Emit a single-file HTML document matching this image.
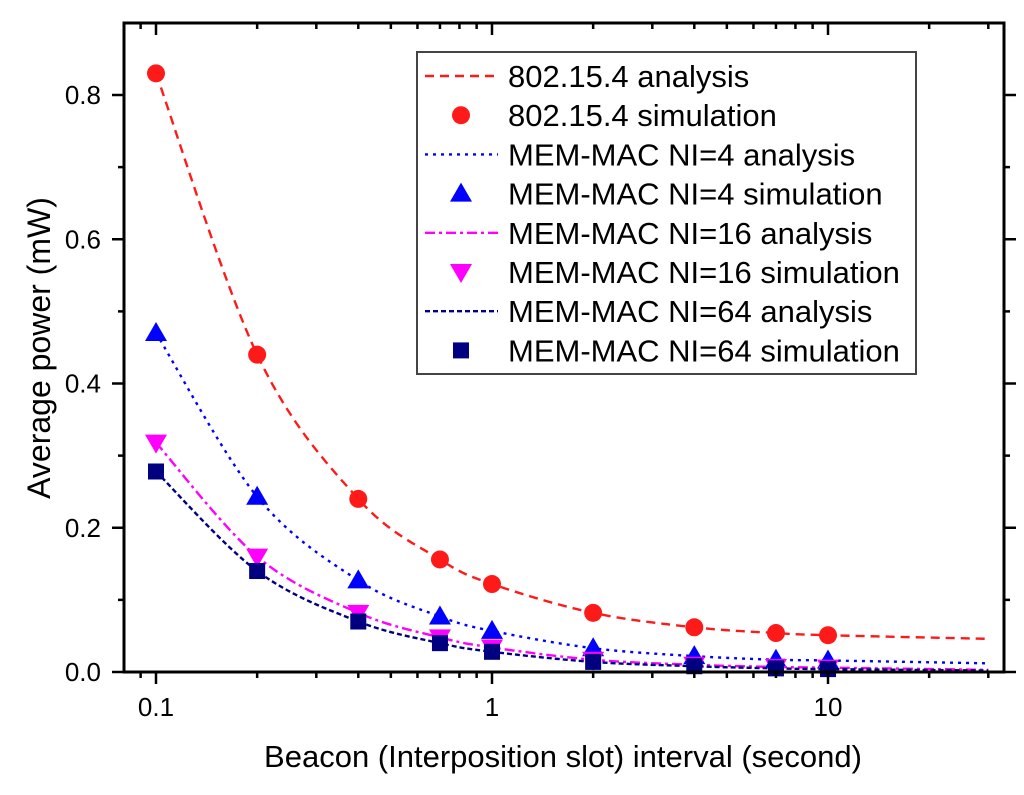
<!DOCTYPE html>
<html><head><meta charset="utf-8"><style>
body{margin:0;background:#fff;}
svg{display:block;font-family:"Liberation Sans",Arial,sans-serif;}
</style></head><body>
<svg id="chart" width="1024" height="795" viewBox="0 0 1024 795" xmlns="http://www.w3.org/2000/svg">
<g id="marks"></g>
<g id="axes"></g>
<text x="563" y="767" font-size="31" text-anchor="middle">Beacon (Interposition slot) interval (second)</text>
<text transform="translate(50,348) rotate(-90)" font-size="32" text-anchor="middle">Average power (mW)</text>
<g id="legend"></g>
</svg>
<script>
const xs=[0.1,0.2,0.4,0.7,1,2,4,7,10];
const redSim=[0.83,0.44,0.24,0.156,0.122,0.082,0.062,0.054,0.051];
const blueSim=[0.47,0.243,0.127,0.077,0.057,0.033,0.022,0.017,0.016];
const magSim=[0.318,0.16,0.082,0.048,0.034,0.017,0.010,0.007,0.006];
const navySim=[0.278,0.14,0.07,0.04,0.028,0.014,0.008,0.005,0.004];
const xEnd=30;
const redEnd=0.046, blueEnd=0.012, magEnd=0.003, navyEnd=0.002;
const xTicks=[0.1,1,10];
const xTickLabels=["0.1","1","10"];
const yTicks=[0,0.2,0.4,0.6,0.8];
const yTickLabels=["0.0","0.2","0.4","0.6","0.8"];

const NS="http://www.w3.org/2000/svg";
const L=124,R=1004,T=23,B=672;
const X=v=>156+336*Math.log10(v/0.1);
const Y=v=>672-721.25*v;
function mk(tag,attrs,parent){const e=document.createElementNS(NS,tag);for(const k in attrs)e.setAttribute(k,attrs[k]);parent.appendChild(e);return e;}
const marks=document.getElementById('marks'),axes=document.getElementById('axes'),leg=document.getElementById('legend');

function smooth(pts){let d=`M${pts[0][0]},${pts[0][1]}`;
 for(let i=0;i<pts.length-1;i++){const p0=pts[Math.max(0,i-1)],p1=pts[i],p2=pts[i+1],p3=pts[Math.min(pts.length-1,i+2)];
  const c1=[p1[0]+(p2[0]-p0[0])/6,p1[1]+(p2[1]-p0[1])/6],c2=[p2[0]-(p3[0]-p1[0])/6,p2[1]-(p3[1]-p1[1])/6];
  d+=` C${c1[0]},${c1[1]} ${c2[0]},${c2[1]} ${p2[0]},${p2[1]}`;}
 return d;}
const series=[
 {n:'802-15-4',vals:redSim,end:redEnd,col:'#ff1a1a',dash:'9,6',m:'circle'},
 {n:'ni4',vals:blueSim,end:blueEnd,col:'#0000ff',dash:'3,5',m:'up'},
 {n:'ni16',vals:magSim,end:magEnd,col:'#ff00ff',dash:'10,4,3,4',m:'down'},
 {n:'ni64',vals:navySim,end:navyEnd,col:'#000080',dash:'5,3',m:'square'}];
function marker(type,cx,cy,col,parent){
 if(type==='circle')return mk('circle',{cx,cy,r:9,fill:col},parent);
 if(type==='up')return mk('polygon',{points:`${cx},${cy-11} ${cx-11},${cy+8} ${cx+11},${cy+8}`,fill:col},parent);
 if(type==='down')return mk('polygon',{points:`${cx},${cy+11} ${cx-11},${cy-8} ${cx+11},${cy-8}`,fill:col},parent);
 return mk('rect',{x:cx-8,y:cy-8,width:16,height:16,fill:col},parent);}
series.forEach(s=>{
 const pts=xs.map((x,i)=>[X(x),Y(s.vals[i])]);pts.push([X(xEnd),Y(s.end)]);
 const p=mk('path',{d:smooth(pts),fill:'none',stroke:s.col,'stroke-width':2.4,'stroke-dasharray':s.dash},marks);
 
 
 xs.forEach((x,i)=>{const m=marker(s.m,X(x),Y(s.vals[i]),s.col,marks);
  
  });
});
const fr=mk('rect',{x:L,y:T,width:R-L,height:B-T,fill:'none',stroke:'#000','stroke-width':3},axes);


for(let d=0.1;d<=10;d*=10){for(let k=1;k<10;k++){const v=d*k;if(v>33)break;const px=X(v);const maj=k===1;const len=maj?12:6;
 mk('line',{x1:px,y1:B,x2:px,y2:B+len,stroke:'#000','stroke-width':2.5},axes);
 mk('line',{x1:px,y1:T,x2:px,y2:T+len,stroke:'#000','stroke-width':2.5},axes);}}
mk('line',{x1:X(0.09),y1:B,x2:X(0.09),y2:B+6,stroke:'#000','stroke-width':2.5},axes);
mk('line',{x1:X(0.09),y1:T,x2:X(0.09),y2:T+6,stroke:'#000','stroke-width':2.5},axes);
xTicks.forEach((v,i)=>{const t=mk('text',{x:X(v),y:B+44,'font-size':26,'text-anchor':'middle'},axes);t.textContent=xTickLabels[i];
 
 });
for(let v=0;v<=0.85;v+=0.1){const py=Y(v);const maj=Math.round(v*10)%2===0;const len=maj?12:6;
 mk('line',{x1:L,y1:py,x2:L-len,y2:py,stroke:'#000','stroke-width':2.5},axes);
 mk('line',{x1:R,y1:py,x2:R+len,y2:py,stroke:'#000','stroke-width':2.5},axes);}
yTicks.forEach((v,i)=>{const t=mk('text',{x:L-23,y:Y(v)+9,'font-size':26,'text-anchor':'end'},axes);t.textContent=yTickLabels[i];
 
 });
mk('rect',{x:417,y:52,width:499,height:322,fill:'#fff',stroke:'#444','stroke-width':2},leg);
const labels=["802.15.4 analysis","802.15.4 simulation","MEM-MAC NI=4 analysis","MEM-MAC NI=4 simulation","MEM-MAC NI=16 analysis","MEM-MAC NI=16 simulation","MEM-MAC NI=64 analysis","MEM-MAC NI=64 simulation"];
labels.forEach((lab,i)=>{const s=series[Math.floor(i/2)];const cy=76+i*39.2;
 if(i%2===0)mk('line',{x1:425,y1:cy,x2:498,y2:cy,stroke:s.col,'stroke-width':2.4,'stroke-dasharray':s.dash},leg);
 else marker(s.m,461,cy,s.col,leg);
 const t=mk('text',{x:508,y:cy+11,'font-size':31},leg);t.textContent=lab;
 
 });
</script>
</body></html>
